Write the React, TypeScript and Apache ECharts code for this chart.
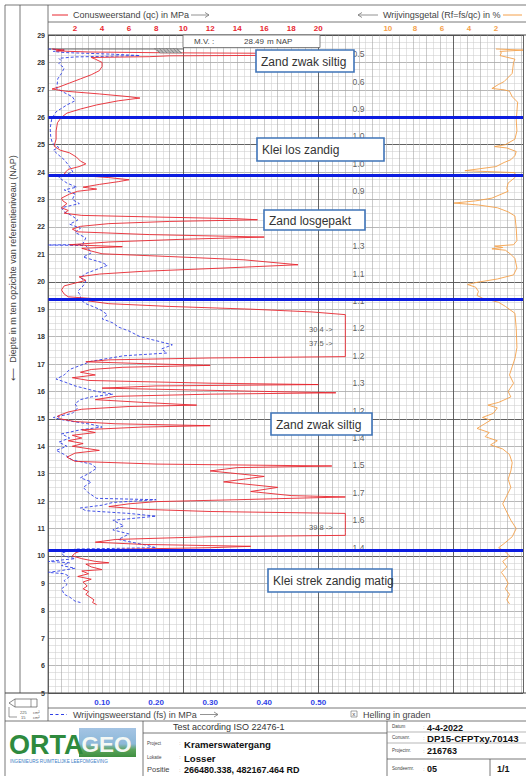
import React, { useEffect, useRef } from "react";
import * as echarts from "echarts";

// ---------- data ----------
const DEPTH_MIN = 5;
const DEPTH_MAX = 29;
const QC_TICK_LABELS = [2, 4, 6, 8, 10, 12, 14, 16, 18, 20];
const RF_TICK_LABELS = [2, 4, 6, 8, 10];
const FS_TICK_LABELS = [0.1, 0.2, 0.3, 0.4, 0.5];
const GROUND_LEVEL = 28.49; // M.V. in m NAP
const QC_CLIP = 22; // qc drawn no further than this (MPa)

const LAYER_BOUNDARIES = [26.0, 23.9, 19.35, 10.2];
const LAYER_NAMES = ["Zand zwak siltig", "Klei los zandig", "Zand losgepakt", "Zand zwak siltig", "Klei strek zandig matig"];

const RF_AVG_DEPTHS = [28.3, 27.3, 26.3, 25.3, 24.3, 23.3, 22.3, 21.3, 20.3, 19.3, 18.3, 17.3, 16.3, 15.3, 14.3, 13.3, 12.3, 11.3, 10.3];
const RF_AVG_VALUES = ["0.5", "0.6", "0.9", "1.0", "1.0", "0.9", "1.1", "1.3", "1.1", "1.1", "1.2", "1.2", "1.3", "1.2", "1.4", "1.5", "1.7", "1.6", "1.4"];

const CLIPPED_DEPTHS = [18.25, 17.75, 11.05];
const CLIPPED_VALUES = [30.4, 37.5, 39.8];

// [depth (m NAP), qc (MPa)]
const QC_PROFILE = [
  [28.49, 0.3], [28.45, 1.2], [28.42, 0.6], [28.38, 3.0], [28.35, 9.0], [28.32, 25.0], [28.27, 24.0], [28.24, 9.0],
  [28.21, 7.5], [28.18, 3.2], [28.12, 3.5], [28.0, 4.0], [27.85, 4.0], [27.7, 3.8], [27.55, 3.2], [27.4, 2.4],
  [27.25, 1.6], [27.1, 0.8], [27.03, 0.3], [26.95, 1.3], [26.85, 3.8], [26.75, 6.0], [26.7, 6.8], [26.6, 5.2],
  [26.45, 3.6], [26.3, 2.4], [26.15, 1.4], [26.0, 1.0], [25.8, 0.7], [25.5, 0.6], [25.2, 0.6], [24.95, 0.45],
  [24.8, 0.9], [24.7, 1.6], [24.55, 2.1], [24.4, 2.4], [24.3, 2.8], [24.2, 2.3], [24.1, 1.5], [24.0, 1.3],
  [23.92, 1.2], [23.87, 2.5], [23.8, 4.5], [23.72, 6.0], [23.65, 5.2], [23.55, 3.8], [23.45, 2.6], [23.38, 3.6],
  [23.3, 2.2], [23.2, 1.6], [23.05, 1.0], [22.95, 1.1], [22.85, 1.4], [22.7, 1.0], [22.6, 1.5], [22.5, 1.2],
  [22.42, 2.5], [22.36, 8.0], [22.3, 14.0], [22.26, 15.5], [22.2, 9.0], [22.12, 4.5], [22.02, 2.4], [21.92, 1.8],
  [21.82, 2.2], [21.72, 7.5], [21.63, 16.0], [21.55, 10.0], [21.45, 4.5], [21.35, 1.6], [21.28, 5.5], [21.22, 2.5],
  [21.12, 3.2], [21.02, 4.0], [20.92, 9.0], [20.8, 14.5], [20.62, 18.5], [20.5, 13.0], [20.38, 7.0], [20.28, 3.8],
  [20.18, 2.3], [20.05, 2.8], [19.95, 2.0], [19.85, 1.2], [19.7, 1.0], [19.55, 1.2], [19.45, 1.5], [19.38, 3.5],
  [19.3, 3.0], [19.2, 4.5], [19.1, 9.0], [19.0, 15.0], [18.9, 19.5], [18.8, 24.0], [18.6, 27.0], [18.25, 30.4],
  [17.75, 37.5], [17.4, 31.0], [17.27, 24.0], [17.22, 12.0], [17.15, 4.5], [17.08, 2.8], [17.0, 8.0], [16.95, 12.0],
  [16.88, 5.5], [16.8, 3.2], [16.7, 2.4], [16.6, 3.5], [16.5, 1.8], [16.4, 3.0], [16.3, 12.0], [16.25, 20.0],
  [16.2, 8.0], [16.12, 4.0], [16.0, 16.0], [15.95, 21.3], [15.9, 12.0], [15.82, 5.0], [15.7, 3.5], [15.6, 7.0],
  [15.5, 11.0], [15.45, 6.0], [15.35, 2.5], [15.25, 1.5], [15.1, 0.7], [15.0, 0.9], [14.9, 2.0], [14.82, 5.0],
  [14.75, 12.0], [14.7, 7.0], [14.6, 2.5], [14.5, 3.5], [14.4, 1.8], [14.3, 2.5], [14.2, 1.5], [14.1, 2.6],
  [14.0, 1.8], [13.85, 3.8], [13.75, 2.0], [13.6, 1.4], [13.45, 2.0], [13.35, 8.0], [13.28, 21.0], [13.22, 14.0],
  [13.1, 12.0], [12.9, 16.0], [12.7, 13.0], [12.5, 17.0], [12.35, 15.0], [12.2, 18.0], [12.15, 26.0], [12.05, 14.0],
  [11.98, 8.0], [11.9, 6.0], [11.8, 4.5], [11.7, 7.0], [11.62, 12.0], [11.55, 24.0], [11.3, 32.0], [11.05, 39.8],
  [10.85, 30.0], [10.75, 22.0], [10.7, 12.0], [10.6, 5.0], [10.5, 3.5], [10.42, 7.0], [10.35, 15.0], [10.3, 12.0],
  [10.25, 6.0], [10.2, 2.5], [10.1, 2.0], [10.0, 1.8], [9.9, 2.5], [9.8, 3.5], [9.75, 4.5], [9.7, 2.8],
  [9.6, 3.2], [9.5, 4.0], [9.45, 2.5], [9.35, 3.0], [9.25, 2.2], [9.15, 3.2], [9.05, 2.6], [8.9, 2.9],
  [8.8, 2.6], [8.7, 3.0], [8.6, 2.8], [8.5, 3.1], [8.4, 3.4], [8.3, 3.3], [8.22, 3.6],
];

// [depth (m NAP), fs (MPa)]
const FS_PROFILE = [
  [28.49, 0.0], [28.45, 0.03], [28.4, 0.01], [28.36, 0.03], [28.3, 0.12], [28.25, 0.17], [28.2, 0.05], [28.15, 0.02],
  [28.05, 0.025], [27.95, 0.02], [27.8, 0.03], [27.6, 0.025], [27.4, 0.018], [27.2, 0.017], [27.05, 0.016], [26.9, 0.03],
  [26.75, 0.045], [26.6, 0.05], [26.45, 0.035], [26.2, 0.015], [25.95, 0.007], [25.6, 0.004], [25.3, 0.005], [25.05, 0.008],
  [24.9, 0.02], [24.8, 0.01], [24.65, 0.018], [24.45, 0.03], [24.2, 0.04], [24.0, 0.046], [23.9, 0.03], [23.8, 0.02],
  [23.6, 0.035], [23.45, 0.053], [23.35, 0.03], [23.2, 0.05], [23.0, 0.045], [22.85, 0.058], [22.7, 0.025], [22.55, 0.03],
  [22.4, 0.045], [22.25, 0.055], [22.1, 0.04], [21.95, 0.06], [21.8, 0.05], [21.6, 0.07], [21.4, 0.065], [21.36, 0.065],
  [21.34, 0.0], [21.32, 0.07], [21.2, 0.075], [21.05, 0.08], [20.9, 0.065], [20.7, 0.1], [20.6, 0.11], [20.45, 0.09],
  [20.3, 0.07], [20.15, 0.06], [20.0, 0.07], [19.85, 0.065], [19.65, 0.055], [19.5, 0.06], [19.35, 0.06], [19.2, 0.07],
  [19.0, 0.095], [18.8, 0.11], [18.65, 0.1], [18.5, 0.12], [18.35, 0.13], [18.2, 0.15], [18.0, 0.17], [17.85, 0.2],
  [17.7, 0.23], [17.55, 0.21], [17.4, 0.22], [17.3, 0.14], [17.2, 0.11], [17.1, 0.08], [16.95, 0.06], [16.8, 0.04],
  [16.6, 0.03], [16.45, 0.015], [16.35, 0.03], [16.2, 0.05], [16.0, 0.09], [15.9, 0.12], [15.8, 0.08], [15.7, 0.06],
  [15.55, 0.05], [15.4, 0.055], [15.2, 0.045], [15.05, 0.01], [14.95, 0.03], [14.8, 0.08], [14.7, 0.1], [14.6, 0.06],
  [14.45, 0.025], [14.3, 0.04], [14.15, 0.02], [14.0, 0.035], [13.85, 0.015], [13.7, 0.03], [13.5, 0.045], [13.35, 0.08],
  [13.2, 0.09], [13.0, 0.075], [12.85, 0.06], [12.7, 0.08], [12.5, 0.065], [12.3, 0.075], [12.1, 0.09], [12.05, 0.2],
  [11.95, 0.12], [11.85, 0.1], [11.75, 0.06], [11.65, 0.07], [11.55, 0.15], [11.45, 0.2], [11.3, 0.12], [11.1, 0.14],
  [10.95, 0.12], [10.8, 0.15], [10.6, 0.13], [10.4, 0.18], [10.3, 0.2], [10.25, 0.05], [10.1, 0.025], [10.0, 0.03],
  [9.9, 0.05], [9.8, 0.0], [9.75, 0.04], [9.65, 0.025], [9.55, 0.05], [9.45, 0.02], [9.4, 0.0], [9.35, 0.03],
  [9.25, 0.04], [9.1, 0.03], [8.95, 0.035], [8.8, 0.025], [8.6, 0.03], [8.5, 0.04], [8.35, 0.05], [8.3, 0.06],
];

// [depth (m NAP), Rf (%)]
const RF_PROFILE = [
  [28.49, 2.0], [28.45, 0.0], [28.4, 1.7], [28.35, 1.6], [28.25, 1.7], [28.12, 0.6], [28.0, 0.7], [27.6, 0.8],
  [27.3, 1.4], [27.2, 1.8], [27.05, 2.3], [27.0, 1.4], [26.95, 1.0], [26.75, 0.8], [26.55, 0.4], [26.2, 0.45],
  [25.9, 0.5], [25.5, 0.45], [25.2, 0.6], [25.0, 1.3], [24.93, 2.1], [24.88, 1.2], [24.75, 0.5], [24.6, 0.6],
  [24.45, 0.9], [24.35, 1.4], [24.2, 2.0], [24.05, 4.3], [23.98, 0.6], [23.8, 0.6], [23.6, 1.1], [23.4, 1.2],
  [23.3, 1.1], [23.05, 2.3], [22.95, 3.5], [22.87, 5.1], [22.8, 3.3], [22.7, 1.9], [22.55, 1.1], [22.4, 0.6],
  [21.95, 0.5], [21.5, 0.45], [21.35, 0.7], [21.3, 2.1], [21.25, 1.5], [21.2, 2.3], [21.15, 1.3], [21.0, 0.9],
  [20.85, 0.6], [20.5, 0.45], [20.25, 0.7], [20.1, 1.9], [19.98, 3.4], [19.9, 4.1], [19.8, 3.5], [19.65, 3.3],
  [19.5, 3.4], [19.4, 3.0], [19.25, 1.8], [19.1, 1.3], [18.85, 0.6], [18.3, 0.5], [17.6, 0.45], [17.2, 0.6],
  [16.9, 0.8], [16.6, 1.0], [16.3, 0.7], [16.0, 1.1], [15.8, 0.9], [15.6, 1.8], [15.5, 2.6], [15.4, 1.9],
  [15.2, 2.2], [15.05, 3.0], [14.95, 2.4], [14.8, 2.9], [14.65, 3.4], [14.5, 2.5], [14.35, 2.8], [14.2, 1.9],
  [14.05, 2.4], [13.9, 1.5], [13.7, 1.0], [13.4, 0.8], [13.1, 0.9], [12.8, 1.1], [12.5, 0.9], [12.2, 1.2],
  [11.9, 1.5], [11.6, 1.2], [11.3, 0.9], [11.0, 0.5], [10.7, 0.8], [10.45, 1.4], [10.3, 1.8], [10.15, 1.3],
  [10.0, 1.0], [9.8, 1.5], [9.6, 1.2], [9.4, 1.6], [9.2, 1.3], [9.0, 1.1], [8.8, 1.3], [8.6, 1.0],
  [8.4, 1.2], [8.25, 1.0],
];

// ---------- layout / style ----------
const FONT = '"Liberation Sans", "DejaVu Sans", Arial, sans-serif';
const GRID = { left: 48, top: 35, width: 478, height: 658 };
const PX_PER_MPA = 13.6;
const QC_AXIS_MAX = GRID.width / PX_PER_MPA;
const FS_AXIS_MAX = QC_AXIS_MAX / 40;
const RF_AXIS_MAX = QC_AXIS_MAX;
const RF_LABEL_COLUMN = 22.5; // qc-axis position of the Rf-average column
const CLIP_LABEL_X = 21.1;

const RED = "#e8262f";
const BLUE = "#2f3fe6";
const ORANGE = "#f4a04a";
const LAYER_BLUE = "#0d1de0";
const FRAME = "#555";

function line(x1: number, y1: number, x2: number, y2: number, stroke = FRAME, lineWidth = 0.8, extra: any = {}) {
  return { type: "line", z: 100, silent: true, shape: { x1, y1, x2, y2 }, style: { stroke, lineWidth, ...extra } };
}
function text(t: string, x: number, y: number, size: number, fill = "#333", extra: any = {}) {
  return {
    type: "text", z: 101, silent: true, x, y,
    style: { text: t, fill, font: `${extra.bold ? "bold " : ""}${size}px ${FONT}`, verticalAlign: "middle", align: extra.align || "left" },
    ...(extra.rotation ? { rotation: extra.rotation } : {}),
  };
}
function arrowRight(x1: number, x2: number, y: number) {
  return [
    line(x1, y, x2, y, "#777", 0.8),
    { type: "polyline", z: 100, silent: true, shape: { points: [[x2 - 4, y - 2.5], [x2, y], [x2 - 4, y + 2.5]] }, style: { stroke: "#777", lineWidth: 0.8, fill: null } },
  ];
}
function arrowLeft(x1: number, x2: number, y: number) {
  return [
    line(x1, y, x2, y, "#777", 0.8),
    { type: "polyline", z: 100, silent: true, shape: { points: [[x1 + 4, y - 2.5], [x1, y], [x1 + 4, y + 2.5]] }, style: { stroke: "#777", lineWidth: 0.8, fill: null } },
  ];
}
function box(x: number, y: number, w: number, h: number, label: string) {
  return [
    { type: "rect", z: 110, silent: true, shape: { x, y, width: w, height: h }, style: { fill: "#fff", stroke: "#3f74b8", lineWidth: 1.6 } },
    { type: "text", z: 111, silent: true, x: x + 5, y: y + h / 2 + 0.5, style: { text: label, fill: "#333", font: `12px ${FONT}`, verticalAlign: "middle" } },
  ];
}

function buildGraphics() {
  const g: any[] = [];
  // outer frame
  g.push(line(5, 5, 526, 5));
  g.push(line(5, 5, 5, 776));
  g.push(line(20, 5, 20, 693));
  g.push(line(48, 5, 48, 721));
  g.push(line(48, 22, 526, 22));
  g.push(line(48, 35, 526, 35, "#444", 1));
  g.push(line(5, 693, 526, 693, "#444", 1));
  g.push(line(48, 708, 526, 708));
  g.push(line(5, 721, 526, 721));
  g.push(line(143, 721, 143, 776));
  g.push(line(387, 721, 387, 776));
  g.push(line(143, 733, 387, 733));
  g.push(line(387, 732, 526, 732, "#888", 0.6));
  g.push(line(387, 743, 526, 743, "#888", 0.6));
  g.push(line(387, 759, 526, 759));
  g.push(line(490, 759, 490, 776));

  // header
  g.push(line(52, 15, 68, 15, RED, 1));
  g.push(text("Conusweerstand (qc) in MPa", 73, 15, 9, "#444"));
  g.push(...arrowRight(191, 209, 15));
  g.push(...arrowLeft(358, 378, 15));
  g.push(text("Wrijvingsgetal (Rf=fs/qc) in %", 383, 15, 9, "#444"));
  g.push(line(503, 15, 522, 15, ORANGE, 1));

  // ground level box
  g.push({ type: "rect", z: 105, silent: true, shape: { x: 183, y: 35, width: 137, height: 12.5 }, style: { fill: "#fff", stroke: "#666", lineWidth: 0.8 } });
  g.push({ ...text("M.V. :", 194, 41.5, 8, "#444"), z: 106 });
  g.push({ ...text(GROUND_LEVEL.toFixed(2), 244, 41.5, 8, "#444"), z: 106 });
  g.push({ ...text("m NAP", 267, 41.5, 8, "#444"), z: 106 });
  // hatch at ground level
  g.push({ type: "polygon", z: 100, silent: true, shape: { points: [[154, 48.5], [176, 48.5], [182, 53], [160, 53]] }, style: { fill: "#bbb", stroke: "#777", lineWidth: 0.5 } });
  for (let i = 0; i < 7; i++) g.push(line(156 + i * 3.5, 48.5, 160 + i * 3.5, 53, "#555", 0.5));

  // vertical axis title
  g.push(text("⟵  Diepte in m ten opzichte van referentieniveau (NAP)", 12.5, 268, 9, "#444", { align: "center", rotation: Math.PI / 2 }));

  // cone icon
  g.push({ type: "polyline", z: 100, silent: true, shape: { points: [[37, 699], [15, 699], [9, 703], [15, 707], [37, 707], [37, 699]] }, style: { stroke: "#555", lineWidth: 0.7, fill: null } });
  g.push(line(15, 699, 15, 707, "#555", 0.6));
  g.push(line(31, 699, 31, 707, "#555", 0.6));
  g.push(line(9, 707, 9, 717, "#555", 0.6));
  g.push(line(9, 717, 17, 717, "#555", 0.6));
  g.push(text("225", 20, 712, 4, "#555"));
  g.push(text("cm²", 33, 712, 4, "#555"));
  g.push(text("15", 21, 717, 4, "#555"));
  g.push(text("cm²", 33, 717, 4, "#555"));

  // legend row
  g.push(line(50, 714.5, 67, 714.5, BLUE, 1.1, { lineDash: [3, 2.5] }));
  g.push(text("Wrijvingsweerstand (fs) in MPa", 73, 714.5, 9, "#444"));
  g.push(...arrowRight(200, 218, 714.5));
  g.push({ type: "rect", z: 100, silent: true, shape: { x: 351, y: 711, width: 6, height: 6 }, style: { fill: "#fff", stroke: "#666", lineWidth: 0.6 } });
  g.push(text("x", 352.2, 713.8, 6, "#444"));
  g.push(text("Helling in graden", 363, 714.5, 9, "#444"));

  // logo
  g.push(text("ORTA", 9, 745, 27, "#2e8a3e", { bold: true }));
  g.push({
    type: "rect", z: 100, silent: true, shape: { x: 79, y: 728, width: 57, height: 29 },
    style: { fill: new echarts.graphic.LinearGradient(0, 0, 0, 1, [{ offset: 0, color: "#a4c4e4" }, { offset: 0.55, color: "#8cb8d8" }, { offset: 0.75, color: "#5aa35a" }, { offset: 1, color: "#3f8f40" }]) },
  });
  g.push(text("GEO", 81.5, 744, 22.5, "#f4f8f4", { bold: true }));
  g.push({ type: "text", z: 101, silent: true, x: 10, y: 761, style: { text: "INGENIEURS RUIMTELIJKE LEEFOMGEVING", fill: "#3b7cc4", font: `4.6px ${FONT}`, verticalAlign: "middle" } });

  // table texts
  g.push(text("Test according ISO 22476-1", 173, 727, 9, "#333"));
  g.push(text("Project", 147, 743, 4.5, "#444"));
  g.push(text(":", 179, 743, 6, "#999"));
  g.push(text("Kramerswatergang", 184, 744, 9.6, "#111", { bold: true }));
  g.push(text("Lokatie", 147, 757, 4.5, "#444"));
  g.push(text(":", 179, 757, 6, "#999"));
  g.push(text("Losser", 184, 758, 9.6, "#111", { bold: true }));
  g.push(text("Positie", 147, 769.5, 7.5, "#444"));
  g.push(text(":", 179, 769.5, 6, "#999"));
  g.push(text("266480.338, 482167.464 RD", 184, 770, 9, "#111", { bold: true }));

  g.push(text("Datum", 392, 726.5, 4.5, "#444"));
  g.push(text(":", 423, 727, 6, "#999"));
  g.push(text("4-4-2022", 427, 728, 9, "#111", { bold: true }));
  g.push(text("Conusnr.", 392, 737, 4.5, "#444"));
  g.push(text(":", 423, 738, 6, "#999"));
  g.push(text("DP15-CFPTxy.70143", 427, 738.5, 9.6, "#111", { bold: true }));
  g.push(text("Projectnr.", 392, 750, 4.5, "#444"));
  g.push(text(":", 423, 751, 6, "#999"));
  g.push(text("216763", 427, 751, 9, "#111", { bold: true }));
  g.push(text("Sondeernr.", 392, 768, 4.5, "#444"));
  g.push(text(":", 423, 768.5, 6, "#999"));
  g.push(text("05", 427, 769, 9, "#111", { bold: true }));
  g.push(text("1/1", 497, 769, 9, "#111", { bold: true }));

  // layer description boxes
  g.push(...box(256, 50, 98, 22, LAYER_NAMES[0]));
  g.push(...box(257, 138, 127, 23, LAYER_NAMES[1]));
  g.push(...box(264, 210, 101, 20, LAYER_NAMES[2]));
  g.push(...box(271, 413, 101, 22, LAYER_NAMES[3]));
  g.push(...box(268, 569, 124, 23, LAYER_NAMES[4]));
  return g;
}

export default function App() {
  const ref = useRef<HTMLDivElement>(null);
  useEffect(() => {
    if (!ref.current) return;
    const chart = echarts.init(ref.current, undefined, { renderer: "svg" });
    const axisCommon = { axisLine: { show: false }, axisTick: { show: false } };
    const option: any = {
      animation: false,
      backgroundColor: "#fff",
      textStyle: { fontFamily: FONT },
      grid: { ...GRID, containLabel: false },
      xAxis: [
        {
          type: "value", position: "top", min: 0, max: QC_AXIS_MAX, interval: 1, ...axisCommon,
          axisLabel: {
            margin: 3, color: RED, fontWeight: "bold", fontSize: 8, fontFamily: FONT,
            formatter: (v: number) => (QC_TICK_LABELS.includes(v) ? String(v) : ""),
          },
          splitLine: { show: true, lineStyle: { color: "#a8a8a8", width: 0.6 } },
          minorTick: { show: false, splitNumber: 2 },
          minorSplitLine: { show: true, lineStyle: { color: "#cdcdcd", width: 0.55 } },
        },
        {
          type: "value", position: "top", inverse: true, min: 0, max: RF_AXIS_MAX, interval: 2, ...axisCommon,
          axisLabel: {
            margin: 3, color: ORANGE, fontWeight: "bold", fontSize: 8, fontFamily: FONT,
            formatter: (v: number) => (RF_TICK_LABELS.includes(v) ? String(v) : ""),
          },
          splitLine: { show: false },
        },
        {
          type: "value", position: "bottom", min: 0, max: FS_AXIS_MAX, interval: 0.1, ...axisCommon,
          axisLabel: {
            margin: 5, color: BLUE, fontWeight: "bold", fontSize: 8, fontFamily: FONT,
            formatter: (v: number) => (FS_TICK_LABELS.some((t) => Math.abs(t - v) < 1e-6) ? v.toFixed(2) : ""),
          },
          splitLine: { show: false },
        },
        {
          type: "value", position: "top", min: 0, max: QC_AXIS_MAX, interval: 10, ...axisCommon,
          axisLabel: { show: false },
          splitLine: { show: true, lineStyle: { color: "#4a4a4a", width: 0.8 } },
        },
      ],
      yAxis: [
        {
          type: "value", min: DEPTH_MIN, max: DEPTH_MAX, interval: 1, ...axisCommon,
          axisLabel: { margin: 3, color: "#333", fontWeight: "bold", fontSize: 7, fontFamily: FONT },
          splitLine: { show: true, lineStyle: { color: "#999", width: 0.7 } },
          minorTick: { show: false, splitNumber: 4 },
          minorSplitLine: { show: true, lineStyle: { color: "#cdcdcd", width: 0.55 } },
        },
        {
          type: "value", min: DEPTH_MIN, max: DEPTH_MAX, interval: 5, ...axisCommon,
          axisLabel: { show: false },
          splitLine: { show: true, lineStyle: { color: "#4a4a4a", width: 0.8 } },
        },
      ],
      series: [
        {
          name: "ground", type: "line", xAxisIndex: 0, yAxisIndex: 0, symbol: "none", silent: true, z: 3,
          data: [[0, GROUND_LEVEL], [10, GROUND_LEVEL]],
          lineStyle: { color: "#666", width: 1 },
        },
        {
          name: "Rf", type: "line", xAxisIndex: 1, yAxisIndex: 0, symbol: "none", silent: true, z: 4,
          data: RF_PROFILE.map(([d, v]) => [v, d]),
          lineStyle: { color: ORANGE, width: 0.9 },
        },
        {
          name: "fs", type: "line", xAxisIndex: 2, yAxisIndex: 0, symbol: "none", silent: true, z: 5,
          data: FS_PROFILE.map(([d, v]) => [v, d]),
          lineStyle: { color: BLUE, width: 0.9, type: [3, 2] },
        },
        {
          name: "qc", type: "line", xAxisIndex: 0, yAxisIndex: 0, symbol: "none", silent: true, z: 6,
          data: QC_PROFILE.map(([d, v]) => [Math.min(v, QC_CLIP), d]),
          lineStyle: { color: RED, width: 0.9 },
          markLine: {
            silent: true, symbol: "none", animation: false, z: 8,
            label: { show: false },
            lineStyle: { color: LAYER_BLUE, width: 3, type: "solid" },
            data: LAYER_BOUNDARIES.map((d) => ({ yAxis: d })),
          },
        },
        {
          name: "rfavg", type: "scatter", xAxisIndex: 0, yAxisIndex: 0, silent: true, z: 7,
          symbolSize: 1, itemStyle: { color: "rgba(0,0,0,0)" },
          data: RF_AVG_DEPTHS.map((d, i) => [RF_LABEL_COLUMN, d, RF_AVG_VALUES[i]]),
          label: { show: true, position: "right", distance: 0, color: "#333", fontSize: 8.5, fontFamily: FONT, formatter: (p: any) => p.value[2] },
        },
        {
          name: "clipped", type: "scatter", xAxisIndex: 0, yAxisIndex: 0, silent: true, z: 7,
          symbolSize: 1, itemStyle: { color: "rgba(0,0,0,0)" },
          data: CLIPPED_DEPTHS.map((d, i) => [CLIP_LABEL_X, d, CLIPPED_VALUES[i]]),
          label: { show: true, position: "left", distance: 0, color: "#333", fontSize: 7.5, fontFamily: FONT, formatter: (p: any) => `${p.value[2].toFixed(1)} ->` },
        },
      ],
      graphic: { elements: buildGraphics() },
    };
    chart.setOption(option);
    return () => chart.dispose();
  }, []);
  return <div ref={ref} style={{ width: 526, height: 776, position: "absolute", left: 0, top: 0 }} />;
}
